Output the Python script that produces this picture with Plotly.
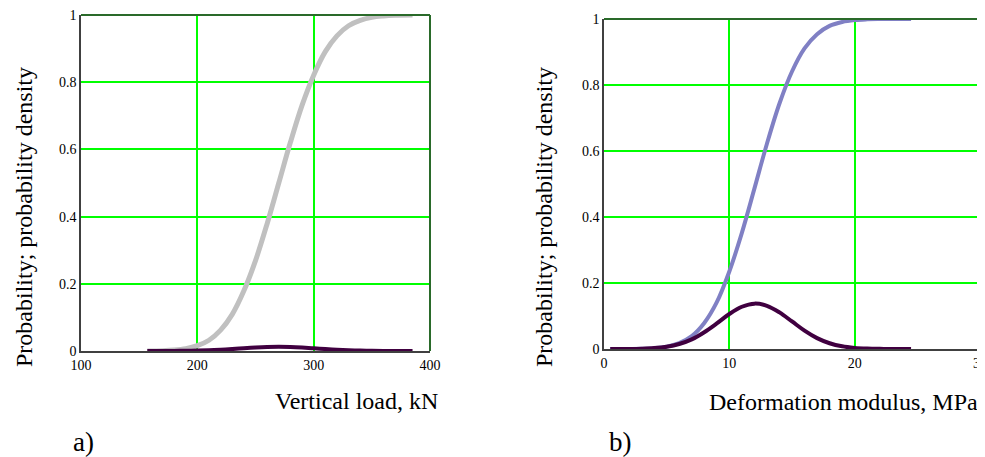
import plotly.graph_objects as go

# ---- data ----
load_x = [157, 170, 180, 190, 200, 210, 220, 230, 240, 250, 260, 270, 280, 290, 300,
          310, 320, 330, 340, 350, 360, 370, 385]
load_cdf = [0.0003, 0.001, 0.0028, 0.0069, 0.0158, 0.032, 0.062, 0.109, 0.179, 0.269,
            0.379, 0.5, 0.621, 0.731, 0.821, 0.891, 0.938, 0.968, 0.984, 0.993, 0.997,
            0.999, 0.9998]
load_pdf = [0.00003, 0.0001, 0.00026, 0.00059, 0.00122, 0.00222, 0.00373, 0.00577,
            0.00804, 0.01017, 0.01172, 0.01228, 0.01172, 0.01017, 0.00804, 0.00577,
            0.00373, 0.00222, 0.00122, 0.00059, 0.00026, 0.0001, 0.00002]

mod_x = [0.5, 2, 3, 4, 5, 6, 7, 8, 9, 10, 11, 12, 13, 14, 15, 16, 17, 18, 19, 20, 21,
         22, 23, 24.5]
mod_cdf = [0.00003, 0.0003, 0.0008, 0.0026, 0.0071, 0.0179, 0.039, 0.079, 0.142, 0.235,
           0.352, 0.486, 0.622, 0.744, 0.841, 0.911, 0.954, 0.979, 0.991, 0.9967,
           0.9989, 0.9997, 0.9999, 1.0]
mod_pdf = [0.00005, 0.0003, 0.001, 0.0028, 0.0069, 0.0151, 0.0292, 0.0509, 0.0776,
           0.106, 0.128, 0.1375, 0.131, 0.111, 0.0835, 0.0557, 0.033, 0.0175, 0.0081,
           0.0034, 0.0012, 0.0004, 0.0001, 0.00001]

load_ticks = [100, 200, 300, 400]
mod_ticks = [0, 10, 20, 30]
y_ticks = [0, 0.2, 0.4, 0.6, 0.8, 1]
y_tick_text = ["0", "0.2", "0.4", "0.6", "0.8", "1"]

# the page body has an 8px margin, so the figure is drawn 8px in from the window corner
OFF = 8
W, H = 985, 457
FONT = "Liberation Serif, Times New Roman, serif"
GRID = "#00ff00"


def px(x):
    return min(max((x - OFF) / W, 0), 1)


def py(y):
    return min(max(1 - (y - OFF) / H, 0), 1)


fig = go.Figure()

fig.add_trace(go.Scatter(x=load_x, y=load_cdf, mode="lines",
                         line=dict(color="#c0c0c0", width=5, shape="spline"),
                         xaxis="x", yaxis="y", showlegend=False))
fig.add_trace(go.Scatter(x=load_x, y=load_pdf, mode="lines",
                         line=dict(color="#400040", width=4, shape="spline"),
                         xaxis="x", yaxis="y", showlegend=False))
fig.add_trace(go.Scatter(x=mod_x, y=mod_cdf, mode="lines",
                         line=dict(color="#8080c4", width=4, shape="spline"),
                         xaxis="x2", yaxis="y2", showlegend=False))
fig.add_trace(go.Scatter(x=mod_x, y=mod_pdf, mode="lines",
                         line=dict(color="#400040", width=4, shape="spline"),
                         xaxis="x2", yaxis="y2", showlegend=False))

axis_common = dict(showgrid=True, gridcolor=GRID, gridwidth=1.5, zeroline=False,
                   showline=True, linecolor="#404040", linewidth=1.5, ticks="",
                   ticklabelstandoff=0, automargin=False, ticklabeloverflow="allow",
                   tickfont=dict(family=FONT, size=14, color="#000"))

fig.update_layout(
    template="none",
    width=W, height=H,
    margin=dict(l=0, r=0, t=0, b=0, pad=0),
    paper_bgcolor="white", plot_bgcolor="white",
    xaxis=dict(domain=[px(81), px(430)], range=[100, 400], tickvals=load_ticks,
               anchor="y", **axis_common),
    yaxis=dict(domain=[py(351), py(15)], range=[0, 1], tickvals=y_ticks, ticktext=y_tick_text,
               anchor="x", **axis_common),
    xaxis2=dict(domain=[px(604), px(980)], range=[0, 30], tickvals=mod_ticks,
                anchor="y2", **axis_common),
    yaxis2=dict(domain=[py(349), py(19)], range=[0, 1], tickvals=y_ticks, ticktext=y_tick_text,
                anchor="x2", **axis_common),
)

# top / right frame (dark green)
for xr, yr in [("x", "y"), ("x2", "y2")]:
    fig.add_shape(type="line", xref=f"{xr} domain", yref=f"{yr} domain", x0=0, x1=1, y0=1, y1=1,
                  line=dict(color="#2a6a2a", width=2), layer="above")
    fig.add_shape(type="line", xref=f"{xr} domain", yref=f"{yr} domain", x0=1, x1=1, y0=0, y1=1,
                  line=dict(color="#2a6a2a", width=2), layer="above")

ann = [
    dict(text="Vertical load, kN", x=px(440), y=py(401), xanchor="right", size=24, angle=0),
    dict(text="Deformation modulus, MPa", x=px(980), y=py(402), xanchor="right", size=24, angle=0),
    dict(text="Probability; probability density", x=px(24), y=py(217), xanchor="center", size=24, angle=-90),
    dict(text="Probability; probability density", x=px(544), y=py(217), xanchor="center", size=24, angle=-90),
    dict(text="a)", x=px(71), y=py(442), xanchor="left", size=27, angle=0),
    dict(text="b)", x=px(607), y=py(442), xanchor="left", size=27, angle=0),
]
for a in ann:
    fig.add_annotation(text=a["text"], x=a["x"], y=a["y"], xref="paper", yref="paper",
                       xanchor=a["xanchor"], yanchor="middle", textangle=a["angle"],
                       showarrow=False, font=dict(family=FONT, size=a["size"], color="#000"))

fig.write_html("out.html")
